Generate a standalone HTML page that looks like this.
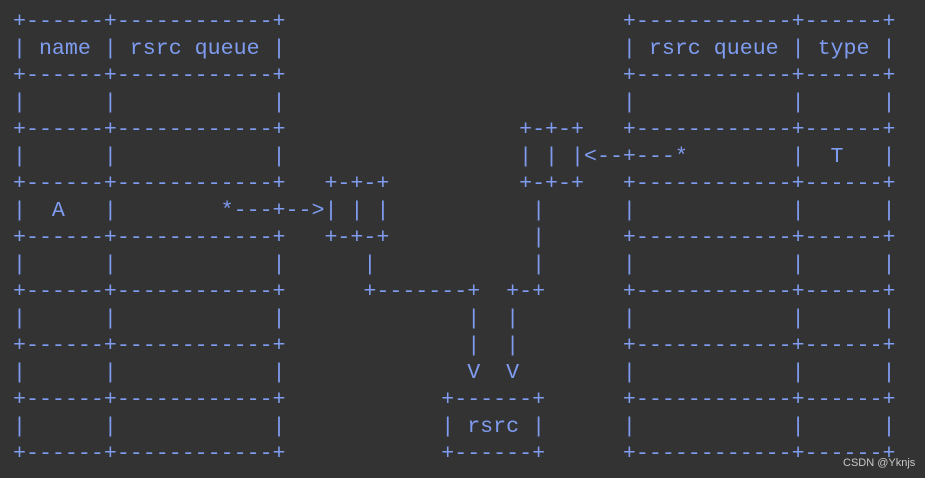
<!DOCTYPE html>
<html><head><meta charset="utf-8"><style>
html,body{margin:0;padding:0;}
body{width:925px;height:478px;background:#333333;position:relative;overflow:hidden;}
pre{position:absolute;left:13px;top:9px;margin:0;font-family:"Liberation Mono",monospace;font-size:21.63px;line-height:27px;color:#7f9cf0;white-space:pre;}
.wm{position:absolute;left:843px;top:457px;font-family:"Liberation Sans",sans-serif;font-size:11px;color:#c8c8c8;}
</style></head><body>
<pre>+------+------------+                          +------------+------+
| name | rsrc queue |                          | rsrc queue | type |
+------+------------+                          +------------+------+
|      |            |                          |            |      |
+------+------------+                  +-+-+   +------------+------+
|      |            |                  | | |<--+---*        |  T   |
+------+------------+   +-+-+          +-+-+   +------------+------+
|  A   |        *---+-->| | |           |      |            |      |
+------+------------+   +-+-+           |      +------------+------+
|      |            |      |            |      |            |      |
+------+------------+      +-------+  +-+      +------------+------+
|      |            |              |  |        |            |      |
+------+------------+              |  |        +------------+------+
|      |            |              V  V        |            |      |
+------+------------+            +------+      +------------+------+
|      |            |            | rsrc |      |            |      |
+------+------------+            +------+      +------------+------+</pre>
<div class="wm">CSDN @Yknjs</div>
</body></html>
